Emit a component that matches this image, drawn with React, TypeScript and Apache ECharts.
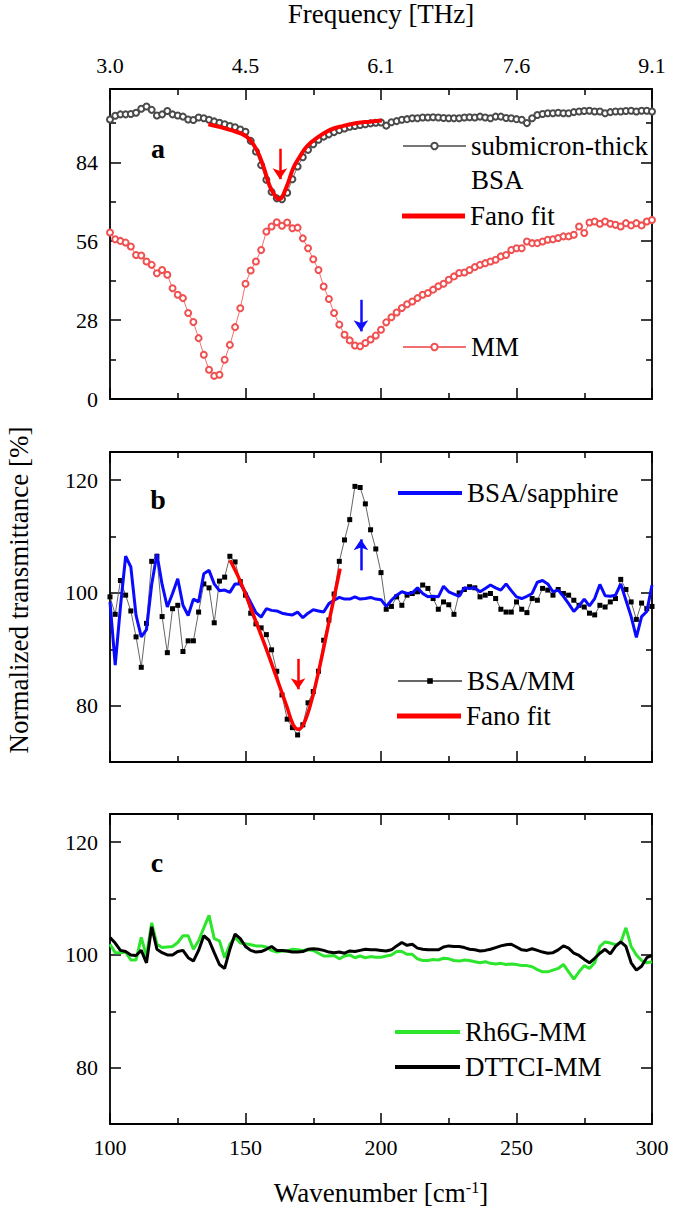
import React, { useEffect, useRef } from "react";
import * as echarts from "echarts";

const FONT = "'Liberation Serif', 'Times New Roman', Times, serif";

// ---- axes ----
const WN_MIN = 100;
const WN_MAX = 300;
const WN_TICKS = [100, 150, 200, 250, 300];
const FREQ_LABELS = ["3.0", "4.5", "6.1", "7.6", "9.1"];
const SAMPLE_STEP = 200 / 104; // cm-1 between samples
const A_Y_TICKS = [0, 28, 56, 84];
const BC_Y_TICKS = [80, 100, 120];
const BC_Y_MINOR = [90, 110];

// ---- panel a ----
const BSA_FILM = [
  99.2, 100.5, 101.0, 101.0, 101.1, 101.6, 103.0, 103.8, 102.6, 100.6,
  101.0, 102.2, 101.0, 100.6, 100.2, 99.2, 99.0, 99.9, 99.6, 99.1,
  98.5, 98.0, 97.5, 96.9, 96.4, 95.6, 94.8, 91.6, 87.8, 83.0,
  77.8, 73.5, 71.2, 70.9, 73.2, 78.0, 82.5, 85.8, 88.4, 90.4,
  92.0, 93.1, 93.9, 94.7, 95.4, 96.0, 96.6, 96.9, 97.2, 97.5,
  97.8, 98.0, 98.1, 97.0, 98.2, 98.6, 99.1, 99.3, 99.6, 99.6,
  99.9, 99.9, 100.0, 99.9, 99.7, 99.6, 99.6, 99.6, 99.9, 100.0,
  99.9, 100.2, 99.9, 99.6, 100.2, 100.2, 99.7, 99.6, 99.3, 99.1,
  97.9, 99.6, 100.8, 101.1, 101.4, 101.4, 101.6, 101.4, 101.4, 101.8,
  102.0, 102.2, 102.3, 102.0, 102.0, 101.4, 101.8, 102.0, 102.0, 102.2,
  102.3, 102.0, 102.3, 102.3, 102.0,
];
const MM = [
  59.1, 56.7, 56.1, 55.5, 54.1, 51.1, 50.9, 48.8, 47.6, 44.6,
  45.8, 44.1, 39.3, 37.0, 35.8, 30.5, 27.3, 21.6, 15.7, 10.4,
  8.2, 8.6, 13.9, 19.2, 25.5, 32.2, 40.9, 45.6, 48.8, 52.9,
  59.4, 61.2, 62.7, 61.5, 62.6, 60.6, 60.8, 57.0, 53.5, 49.6,
  45.8, 39.9, 35.5, 30.5, 26.4, 22.8, 20.8, 19.0, 18.7, 19.9,
  21.1, 22.5, 24.6, 27.2, 29.0, 30.7, 32.3, 33.6, 34.6, 35.8,
  37.0, 37.6, 38.8, 40.0, 40.9, 42.3, 43.5, 44.7, 44.9, 45.8,
  46.8, 47.6, 48.2, 48.8, 49.4, 50.6, 51.1, 52.9, 53.5, 53.5,
  55.9, 55.3, 55.3, 55.9, 56.5, 56.7, 57.1, 57.7, 57.7, 58.3,
  61.2, 58.9, 62.6, 63.0, 62.2, 63.0, 62.2, 61.8, 61.2, 62.4,
  61.6, 62.4, 61.6, 63.0, 63.5,
];
const FANO_A_X = [136.3, 144.3, 150.4, 154.1, 156.6, 159.0, 161.5, 162.5, 165.2, 167.6, 170.1, 172.6, 176.3, 181.2, 186.1, 191.0, 195.9, 200.3];
const FANO_A_Y = [97.5, 95.5, 93.1, 88.4, 82.5, 75.4, 71.3, 70.9, 75.4, 81.9, 86.1, 89.6, 92.6, 95.5, 96.9, 97.9, 98.4, 98.8];

// ---- panel b ----
const BSA_MM = [
  99.3, 96.2, 102.2, 99.6, 96.8, 92.2, 86.8, 94.6, 105.6, 106.5,
  95.8, 89.4, 97.2, 97.8, 89.6, 91.5, 91.5, 96.6, 101.6, 100.9,
  94.7, 102.1, 102.8, 106.5, 105.5, 102.0, 99.6, 96.4, 94.5, 93.8,
  92.6, 89.9, 86.1, 81.9, 77.6, 76.1, 74.8, 76.6, 80.5, 82.5,
  86.1, 91.6, 95.2, 99.8, 105.6, 109.4, 113.0, 118.9, 118.7, 115.8,
  111.2, 107.8, 103.6, 97.1, 97.6, 99.3, 97.8, 99.6, 99.9, 100.2,
  101.4, 100.8, 99.0, 97.1, 98.4, 97.9, 96.2, 100.0, 100.6, 101.1,
  100.9, 99.3, 99.6, 99.9, 99.0, 97.1, 96.6, 96.6, 98.4, 97.1,
  96.5, 99.0, 98.7, 100.8, 100.5, 99.6, 100.6, 99.9, 99.6, 98.7,
  97.8, 97.5, 96.4, 96.1, 97.8, 97.5, 98.4, 99.0, 102.4, 100.6,
  98.4, 95.3, 98.2, 97.2, 97.6,
];
const BSA_SAPPHIRE = [
  98.4, 87.2, 97.5, 106.5, 104.6, 96.0, 92.2, 93.5, 101.5, 106.9,
  101.5, 97.5, 99.9, 102.5, 97.8, 96.0, 98.9, 98.4, 103.4, 104.0,
  101.6, 100.4, 100.5, 100.1, 101.6, 101.6, 100.1, 98.3, 96.5, 95.7,
  97.2, 96.9, 96.8, 96.4, 96.2, 96.1, 96.6, 95.6, 96.4, 97.0,
  96.8, 96.6, 98.1, 98.7, 99.2, 98.9, 98.9, 99.3, 98.9, 99.0,
  99.2, 98.9, 98.8, 97.6, 98.7, 99.6, 100.2, 99.9, 100.0, 100.9,
  99.9, 99.3, 99.4, 99.3, 101.2, 100.2, 99.8, 99.4, 100.9, 100.8,
  100.9, 100.2, 100.8, 101.4, 100.9, 100.5, 101.6, 100.4, 99.3, 99.0,
  99.4, 99.9, 101.9, 102.2, 101.6, 100.2, 100.5, 99.4, 98.1, 96.7,
  97.7, 98.9, 97.7, 99.0, 101.5, 99.5, 99.4, 99.6, 101.6, 98.7,
  95.8, 92.1, 95.8, 96.7, 101.4,
];
const FANO_B_X = [144.3, 147.4, 150.4, 154.1, 157.8, 161.5, 165.2, 167.6, 169.5, 171.3, 173.8, 176.3, 178.7, 181.2, 183.0, 184.9];
const FANO_B_Y = [105.8, 102.8, 99.3, 94.6, 89.9, 84.9, 79.9, 76.6, 75.8, 76.6, 79.9, 84.6, 89.9, 95.8, 99.9, 104.3];

// ---- panel c ----
const RH6G_MM = [
  101.9, 100.4, 100.4, 100.5, 99.1, 99.1, 103.1, 99.8, 105.7, 101.9,
  101.3, 101.4, 101.5, 102.2, 103.4, 103.4, 101.0, 102.5, 104.8, 107.0,
  102.9, 102.5, 99.5, 101.9, 103.1, 102.1, 102.0, 101.8, 101.6, 101.6,
  101.4, 100.8, 100.5, 100.7, 100.7, 101.0, 100.9, 100.8, 100.9, 100.8,
  100.3, 99.8, 99.8, 99.9, 99.3, 99.8, 100.0, 99.5, 99.8, 99.5,
  99.7, 99.6, 99.6, 99.8, 100.0, 100.6, 100.6, 100.1, 100.1, 99.3,
  99.0, 99.0, 99.2, 99.1, 99.4, 99.3, 99.0, 98.9, 99.1, 99.0,
  98.8, 98.6, 98.8, 98.5, 98.4, 98.5, 98.3, 98.4, 98.3, 98.1,
  98.1, 97.9, 97.4, 97.0, 97.0, 97.3, 97.6, 98.3, 97.0, 95.7,
  97.0, 98.1, 97.6, 98.6, 101.5, 102.3, 102.1, 101.8, 102.2, 104.8,
  101.5, 100.0, 99.0, 98.6, 98.8,
];
const DTTCI_MM = [
  103.1, 102.1, 100.8, 100.6, 100.0, 99.9, 100.8, 98.6, 105.0, 101.0,
  100.4, 100.0, 100.0, 100.6, 100.8, 99.5, 98.9, 100.8, 103.4, 102.6,
  100.4, 98.3, 97.6, 101.0, 103.7, 102.9, 101.5, 100.8, 100.5, 100.6,
  101.0, 101.5, 100.8, 100.8, 100.7, 100.5, 100.5, 100.6, 101.0, 101.1,
  101.0, 100.8, 100.5, 100.4, 100.5, 100.3, 100.7, 100.6, 100.8, 101.0,
  100.9, 100.9, 100.8, 100.7, 100.9, 101.6, 102.2, 101.7, 101.9, 101.2,
  101.0, 100.9, 100.9, 100.9, 101.4, 101.6, 101.5, 101.5, 101.3, 101.0,
  100.9, 100.7, 100.8, 101.0, 101.3, 101.6, 101.8, 101.9, 101.4, 100.9,
  100.8, 101.1, 100.8, 100.5, 100.3, 100.4, 100.9, 101.6, 101.2, 100.3,
  99.9, 99.2, 98.6, 99.4, 100.3, 101.0, 100.2, 101.5, 102.3, 101.5,
  98.6, 97.3, 98.0, 99.5, 99.9,
];

// ---- annotation arrows (data coordinates: x, from y, to y) ----
const ARROW_A_RED = [162.7, 88.8, 78.0];
const ARROW_A_BLUE = [192.6, 35.2, 24.0];
const ARROW_B_RED = [169.4, 88.3, 82.9];
const ARROW_B_BLUE = [192.6, 104.0, 109.5];

const onGrid = (vals: number[]) => vals.map((v, i) => [WN_MIN + i * SAMPLE_STEP, v]);
const zip = (xs: number[], ys: number[]) => xs.map((x, i) => [x, ys[i]]);

const arrow = (a: number[], color: string) => ({
  silent: true,
  symbol: ["none", "arrow"],
  symbolSize: 11,
  label: { show: false },
  emphasis: { disabled: true },
  lineStyle: { color, width: 2.5, type: "solid" },
  data: [[{ coord: [a[0], a[1]] }, { coord: [a[0], a[2]] }]],
});

export default function App() {
  const ref = useRef<HTMLDivElement>(null);

  useEffect(() => {
    document.body.style.margin = "0";
    if (!ref.current) return;
    const chart = echarts.init(ref.current, null, { renderer: "svg" });

    const lineStyleAxis = { color: "#000", width: 1.8 };
    const tickStyle = { color: "#000", width: 1.5 };
    const labelBase = { fontSize: 22, fontFamily: FONT, color: "#000" };
    const titleStyle = { fontSize: 27, fontFamily: FONT, color: "#000" };
    const GRID_TOPS = [89, 452, 814];

    const xAxes: any[] = [];
    [0, 1, 2].forEach((g) => {
      const base = {
        gridIndex: g,
        type: "value",
        min: WN_MIN,
        max: WN_MAX,
        interval: 50,
        axisLine: { show: true, onZero: false, lineStyle: lineStyleAxis },
        axisTick: { show: true, inside: true, length: 11, lineStyle: tickStyle },
        minorTick: { show: true, splitNumber: 2, length: 6, lineStyle: tickStyle },
        splitLine: { show: false },
        minorSplitLine: { show: false },
      };
      xAxes.push({
        ...base,
        position: "bottom",
        axisLabel: { ...labelBase, show: g === 2, margin: 12 },
        ...(g === 2
          ? {
              name: "Wavenumber [cm{sup|-1}]",
              nameLocation: "middle",
              nameGap: 55,
              nameTextStyle: {
                ...titleStyle,
                rich: { sup: { fontSize: 16, fontFamily: FONT, color: "#000", verticalAlign: "top" } },
              },
            }
          : {}),
      });
      xAxes.push({
        ...base,
        position: "top",
        axisLabel: {
          ...labelBase,
          show: g === 0,
          margin: 13,
          formatter: (v: number) => {
            const k = WN_TICKS.indexOf(v);
            return k >= 0 ? FREQ_LABELS[k] : "";
          },
        },
        ...(g === 0
          ? { name: "Frequency [THz]", nameLocation: "middle", nameGap: 62, nameTextStyle: titleStyle }
          : {}),
      });
    });

    const yAxes: any[] = [];
    const yA = {
      gridIndex: 0,
      type: "value",
      min: 0,
      max: 110,
      interval: 28,
      axisLine: { show: true, onZero: false, lineStyle: lineStyleAxis },
      axisTick: { show: true, inside: true, length: 11, lineStyle: tickStyle },
      minorTick: { show: true, splitNumber: 2, length: 6, lineStyle: tickStyle },
      splitLine: { show: false },
    };
    yAxes.push({
      ...yA,
      position: "left",
      axisLabel: {
        ...labelBase,
        margin: 12,
        showMaxLabel: false,
        formatter: (v: number) => (A_Y_TICKS.includes(v) ? String(v) : ""),
      },
    });
    yAxes.push({ ...yA, position: "right", axisLabel: { show: false } });

    [1, 2].forEach((g) => {
      const base = {
        gridIndex: g,
        type: "value",
        min: 70,
        max: 125,
        interval: 10,
        splitLine: { show: false },
      };
      const major = (pos: string, labels: boolean) => ({
        ...base,
        position: pos,
        axisLine: { show: true, onZero: false, lineStyle: lineStyleAxis },
        axisTick: { show: true, inside: true, length: 11, lineStyle: tickStyle, customValues: BC_Y_TICKS },
        axisLabel: labels
          ? {
              ...labelBase,
              margin: 12,
              customValues: BC_Y_TICKS,
              formatter: (v: number) => (BC_Y_TICKS.includes(v) ? String(v) : ""),
            }
          : { show: false },
      });
      const minor = (pos: string) => ({
        ...base,
        position: pos,
        axisLine: { show: false },
        axisTick: { show: true, inside: true, length: 6, lineStyle: tickStyle, customValues: BC_Y_MINOR },
        axisLabel: { show: false },
      });
      const left: any = major("left", true);
      if (g === 1) {
        left.name = "Normalized transmittance [%]";
        left.nameLocation = "middle";
        left.nameRotate = 90;
        left.nameGap = 78;
        left.nameTextStyle = { ...titleStyle, lineHeight: 27, padding: [0, 0, 0, 34] };
      }
      yAxes.push(left, minor("left"), major("right", false), minor("right"));
    });

    const legendBase = {
      orient: "vertical",
      padding: 0,
      itemGap: 0,
      selectedMode: false,
      textStyle: { fontSize: 27, fontFamily: FONT, color: "#000", lineHeight: 30 },
    };
    const lineLegend = (left: number, top: number, w: number, h: number, name: string) => ({
      ...legendBase,
      left,
      top,
      itemWidth: w,
      itemHeight: h,
      icon: "rect",
      data: [name],
    });

    const option: any = {
      animation: false,
      grid: GRID_TOPS.map((t) => ({
        left: 110,
        top: t,
        width: 542,
        height: 310,
        containLabel: false,
        outerBoundsMode: "none",
      })),
      xAxis: xAxes,
      yAxis: yAxes,
      legend: [
        {
          ...legendBase,
          left: 402,
          top: 95,
          itemWidth: 63,
          itemHeight: 8,
          textStyle: { ...legendBase.textStyle, lineHeight: 34 },
          data: ["submicron-thick BSA"],
          formatter: () => "\nsubmicron-thick\nBSA",
        },
        lineLegend(402, 201, 63, 5, "Fano fit"),
        { ...legendBase, left: 402, top: 332, itemWidth: 63, itemHeight: 8, data: ["MM"] },
        lineLegend(398, 478, 64, 4, "BSA/sapphire"),
        { ...legendBase, left: 397, top: 666, itemWidth: 64, itemHeight: 7, data: ["BSA/MM"] },
        lineLegend(397, 701, 64, 5, "Fano fit"),
        lineLegend(395, 1017, 65, 4, "Rh6G-MM"),
        lineLegend(395, 1052, 65, 4, "DTTCI-MM"),
      ],
      series: [
        {
          type: "line",
          name: "submicron-thick BSA",
          xAxisIndex: 0,
          yAxisIndex: 0,
          data: onGrid(BSA_FILM),
          symbol: "emptyCircle",
          symbolSize: 6,
          itemStyle: { color: "#4a4a4a", borderWidth: 1 },
          lineStyle: { color: "#777", width: 1 },
          z: 2,
        },
        {
          type: "line",
          name: "MM",
          xAxisIndex: 0,
          yAxisIndex: 0,
          data: onGrid(MM),
          symbol: "emptyCircle",
          symbolSize: 6,
          itemStyle: { color: "#f05050", borderWidth: 1 },
          lineStyle: { color: "#f27070", width: 1 },
          markLine: arrow(ARROW_A_BLUE, "#1010ff"),
          z: 2,
        },
        {
          type: "line",
          name: "Fano fit",
          xAxisIndex: 0,
          yAxisIndex: 0,
          data: zip(FANO_A_X, FANO_A_Y),
          smooth: 0.4,
          symbol: "none",
          itemStyle: { color: "#ff0000" },
          lineStyle: { color: "#ff0000", width: 4 },
          markLine: arrow(ARROW_A_RED, "#ff0000"),
          z: 4,
        },
        {
          type: "line",
          name: "BSA/MM",
          xAxisIndex: 2,
          yAxisIndex: 2,
          data: onGrid(BSA_MM),
          symbol: "rect",
          symbolSize: 5,
          itemStyle: { color: "#000" },
          lineStyle: { color: "#666", width: 1 },
          z: 2,
        },
        {
          type: "line",
          name: "BSA/sapphire",
          xAxisIndex: 2,
          yAxisIndex: 2,
          data: onGrid(BSA_SAPPHIRE),
          symbol: "none",
          itemStyle: { color: "#0a0aff" },
          lineStyle: { color: "#0a0aff", width: 3 },
          markLine: arrow(ARROW_B_BLUE, "#0a0aff"),
          z: 3,
        },
        {
          type: "line",
          name: "Fano fit",
          xAxisIndex: 2,
          yAxisIndex: 2,
          data: zip(FANO_B_X, FANO_B_Y),
          smooth: 0.4,
          symbol: "none",
          itemStyle: { color: "#ff0000" },
          lineStyle: { color: "#ff0000", width: 3.5 },
          markLine: arrow(ARROW_B_RED, "#ff0000"),
          z: 4,
        },
        {
          type: "line",
          name: "Rh6G-MM",
          xAxisIndex: 4,
          yAxisIndex: 6,
          data: onGrid(RH6G_MM),
          symbol: "none",
          itemStyle: { color: "#2ee52e" },
          lineStyle: { color: "#2ee52e", width: 3 },
          z: 2,
        },
        {
          type: "line",
          name: "DTTCI-MM",
          xAxisIndex: 4,
          yAxisIndex: 6,
          data: onGrid(DTTCI_MM),
          symbol: "none",
          itemStyle: { color: "#000" },
          lineStyle: { color: "#000", width: 3 },
          z: 3,
        },
      ],
      graphic: [
        { type: "text", x: 158, y: 148, style: { text: "a", fontSize: 28, fontWeight: "bold", fontFamily: FONT, fill: "#000", align: "center", verticalAlign: "middle" } },
        { type: "text", x: 158, y: 499, style: { text: "b", fontSize: 28, fontWeight: "bold", fontFamily: FONT, fill: "#000", align: "center", verticalAlign: "middle" } },
        { type: "text", x: 157, y: 862, style: { text: "c", fontSize: 28, fontWeight: "bold", fontFamily: FONT, fill: "#000", align: "center", verticalAlign: "middle" } },
      ],
    };

    chart.setOption(option);
    return () => chart.dispose();
  }, []);

  return <div ref={ref} style={{ width: 675, height: 1212 }} />;
}
